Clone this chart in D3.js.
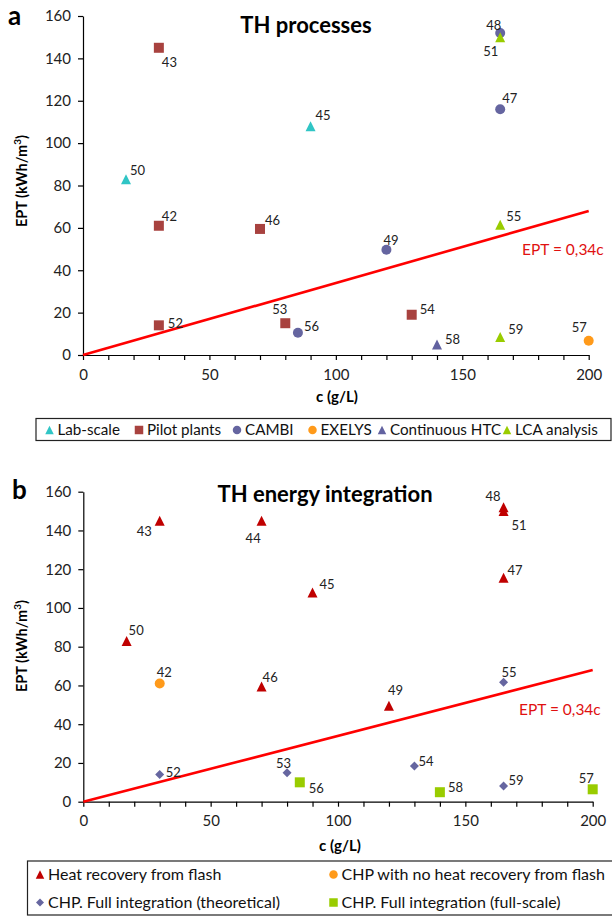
<!DOCTYPE html>
<html lang="en">
<head>
<meta charset="utf-8">
<title>TH processes / TH energy integration</title>
<script src="https://d3js.org/d3.v7.min.js"></script>
<style>
  body { margin: 0; background: #fff; }
  svg text { font-family: Lato, "Open Sans", sans-serif; }
</style>
</head>
<body>
<script>
// ---- data ----
var xTicks = [0, 50, 100, 150, 200];
var xMinor = d3.range(0, 201, 10);
var yTicks = [0, 20, 40, 60, 80, 100, 120, 140, 160];
var fitSlope = 0.34;
var fitLabel = "EPT = 0,34c";

// panel a: TH processes
var aNames = ["Lab-scale", "Pilot plants", "CAMBI", "EXELYS", "Continuous HTC", "LCA analysis"];
var aIds   = [50, 45, 43, 42, 46, 52, 53, 54, 48, 47, 49, 56, 57, 58, 51, 55, 59];
var aC     = [17, 90, 30, 30, 70, 30, 80, 130, 165, 165, 120, 85, 200, 140, 165, 165, 165];
var aEPT   = [83, 108, 145, 61, 59.5, 14, 15, 19, 152, 116, 49.7, 10.5, 6.7, 5, 150, 61.5, 8.5];
var aSeries= [0, 0, 1, 1, 1, 1, 1, 1, 2, 2, 2, 2, 3, 4, 5, 5, 5];

// panel b: TH energy integration
var bNames = ["Heat recovery from flash", "CHP with no heat recovery from flash",
              "CHP. Full integration (theoretical)", "CHP. Full integration (full-scale)"];
var bIds   = [43, 44, 50, 48, 51, 47, 45, 46, 49, 42, 52, 53, 54, 55, 59, 56, 58, 57];
var bC     = [30, 70, 17, 165, 165, 165, 90, 70, 120, 30, 30, 80, 130, 165, 165, 85, 140, 200];
var bEPT   = [145, 145, 83, 152, 150, 115.6, 108, 59.4, 49.5, 61, 14, 15, 18.4, 61.6, 8.1, 10, 4.9, 6.4];
var bSeries= [0, 0, 0, 0, 0, 0, 0, 0, 0, 1, 2, 2, 2, 2, 2, 3, 3, 3];

// ---- styling ----
var aStyle = [
  {shape: "triangle", color: "#30C5C5"},
  {shape: "square",   color: "#A8423F"},
  {shape: "circle",   color: "#6565A0"},
  {shape: "circle",   color: "#FF9A1A"},
  {shape: "triangle", color: "#6262A0"},
  {shape: "triangle", color: "#99CC00"}
];
var bStyle = [
  {shape: "triangle", color: "#C00000"},
  {shape: "circle",   color: "#FF9A1A"},
  {shape: "diamond",  color: "#6666A0"},
  {shape: "square",   color: "#99CC00"}
];
// label offsets (dx, dy of baseline) per point id
var aLab = {50:[4,-4],45:[5,-6],43:[3,19],42:[3,-5],46:[5,-4],52:[9,3],53:[-13,-9],54:[8,-1],
            48:[-14,-3],47:[2,-6],49:[-3,-5],56:[6,-2],57:[-17,-9],58:[8,0],51:[-17,19],55:[6,-4],59:[8,-3]};
var bLab = {43:[-23,15],44:[-16,22],50:[2,-6],48:[-18,-6],51:[8,19],47:[4,-3],45:[7,-3],46:[1,-5],
            49:[-1,-11],42:[-3,-7],52:[6,2],53:[-11,-5],54:[4,0],55:[-2,-5],59:[5,-1],56:[9,11],58:[8,0],57:[-14,-6]};

function shapePath(shape, s) {
  var h = s / 2;
  if (shape === "square") return "M" + (-h) + "," + (-h) + "h" + s + "v" + s + "h" + (-s) + "Z";
  if (shape === "triangle") return "M0," + (-h) + "L" + h + "," + h + "L" + (-h) + "," + h + "Z";
  if (shape === "diamond") return "M0," + (-h) + "L" + h + ",0L0," + h + "L" + (-h) + ",0Z";
  return "M" + h + ",0A" + h + "," + h + " 0 1,1 " + (-h) + ",0A" + h + "," + h + " 0 1,1 " + h + ",0Z";
}
var markSize = {square: 10, triangle: 10, circle: 10, diamond: 9};

var svg = d3.select("body").append("svg")
  .attr("width", 612).attr("height", 916);

function drawPanel(p) {
  var x = d3.scaleLinear().domain([0, 200]).range(p.xr);
  var y = d3.scaleLinear().domain([0, 160]).range(p.yr);
  var g = svg.append("g");

  g.append("text").attr("x", p.tag[0]).attr("y", p.tag[1])
    .attr("font-size", p.tag[2]).attr("font-weight", "bold").text(p.tagText);
  g.append("text").attr("x", p.title[0]).attr("y", p.title[1])
    .attr("text-anchor", "middle").attr("font-size", 22).attr("font-weight", "bold")
    .text(p.titleText);

  var ya = g.append("g").attr("transform", "translate(" + p.xr[0] + ",0)")
    .call(d3.axisLeft(y).tickValues(yTicks).tickSize(5).tickSizeOuter(0).tickPadding(7));
  var xa = g.append("g").attr("transform", "translate(0," + p.yr[0] + ")")
    .call(d3.axisBottom(x).tickValues(xMinor).tickSize(5).tickSizeOuter(0).tickPadding(9)
      .tickFormat(function(d) { return xTicks.indexOf(d) >= 0 ? d : ""; }));
  [ya, xa].forEach(function(a) {
    a.selectAll("path, line").attr("stroke", "#000").attr("stroke-width", 1.2);
    a.selectAll("text").attr("font-size", 15).attr("fill", "#222")
      .style("font-family", "Lato, sans-serif");
  });

  g.append("text")
    .attr("transform", "translate(" + p.ylab[0] + "," + p.ylab[1] + ") rotate(-90)")
    .attr("text-anchor", "middle").attr("font-size", 14.5).attr("font-weight", "bold")
    .html("EPT (kWh/m<tspan baseline-shift='super' font-size='10'>3</tspan>)");
  g.append("text").attr("x", p.xlab[0]).attr("y", p.xlab[1])
    .attr("text-anchor", "middle").attr("font-size", 15).attr("font-weight", "bold")
    .text("c (g/L)");

  // fit line
  g.append("line")
    .attr("x1", x(0)).attr("y1", y(0))
    .attr("x2", x(200)).attr("y2", y(fitSlope * 200))
    .attr("stroke", "#FF0000").attr("stroke-width", 2.6);
  g.append("text").attr("x", p.fit[0]).attr("y", p.fit[1])
    .attr("font-size", 15.5).attr("fill", "#E01010").text(fitLabel);

  var pts = p.ids.map(function(id, i) {
    return {id: id, c: p.c[i], v: p.v[i], s: p.series[i]};
  });
  var mk = g.append("g").selectAll("g").data(pts).enter().append("g")
    .attr("transform", function(d) { return "translate(" + x(d.c) + "," + y(d.v) + ")"; });
  mk.append("path")
    .attr("d", function(d) { var st = p.style[d.s]; return shapePath(st.shape, markSize[st.shape]); })
    .attr("fill", function(d) { return p.style[d.s].color; });
  mk.append("text")
    .attr("x", function(d) { return p.lab[d.id][0]; })
    .attr("y", function(d) { return p.lab[d.id][1]; })
    .attr("font-size", 13).attr("fill", "#222")
    .text(function(d) { return d.id; });

  // legend
  var L = p.legend;
  g.append("rect").attr("x", L.box[0]).attr("y", L.box[1])
    .attr("width", L.box[2]).attr("height", L.box[3])
    .attr("fill", "none").attr("stroke", "#222").attr("stroke-width", 1.2);
  var li = g.append("g").selectAll("g").data(p.names).enter().append("g")
    .attr("transform", function(d, i) { return "translate(" + L.pos[i][0] + "," + L.pos[i][1] + ")"; });
  li.append("path")
    .attr("d", function(d, i) { var st = p.style[i]; return shapePath(st.shape, st.shape === "diamond" ? 8 : 8.5); })
    .attr("fill", function(d, i) { return p.style[i].color; });
  li.append("text").attr("x", 8).attr("y", 5.4)
    .attr("font-size", L.fs).attr("fill", "#111")
    .text(function(d) { return d; });
}

drawPanel({
  xr: [83, 588.7], yr: [355, 16],
  tag: [8, 25, 26], tagText: "a",
  title: [306, 33], titleText: "TH processes",
  ylab: [27, 181], xlab: [337, 402],
  fit: [522, 255],
  ids: aIds, c: aC, v: aEPT, series: aSeries,
  style: aStyle, lab: aLab, names: aNames,
  legend: {
    fs: 15.2,
    box: [36, 418.5, 575, 22],
    pos: [[49.5, 430], [139, 430], [237, 430], [312.5, 430], [382, 430], [507, 430]]
  }
});

drawPanel({
  xr: [83.3, 592.7], yr: [801.7, 491.7],
  tag: [12, 499, 26], tagText: "b",
  title: [325, 502], titleText: "TH energy integration",
  ylab: [27, 646], xlab: [340, 851],
  fit: [519, 715],
  ids: bIds, c: bC, v: bEPT, series: bSeries,
  style: bStyle, lab: bLab, names: bNames,
  legend: {
    fs: 16,
    box: [27.5, 861, 590, 54],
    pos: [[40, 874.5], [333.5, 874.5], [40, 902.5], [333.5, 902.5]]
  }
});
</script>
</body>
</html>
